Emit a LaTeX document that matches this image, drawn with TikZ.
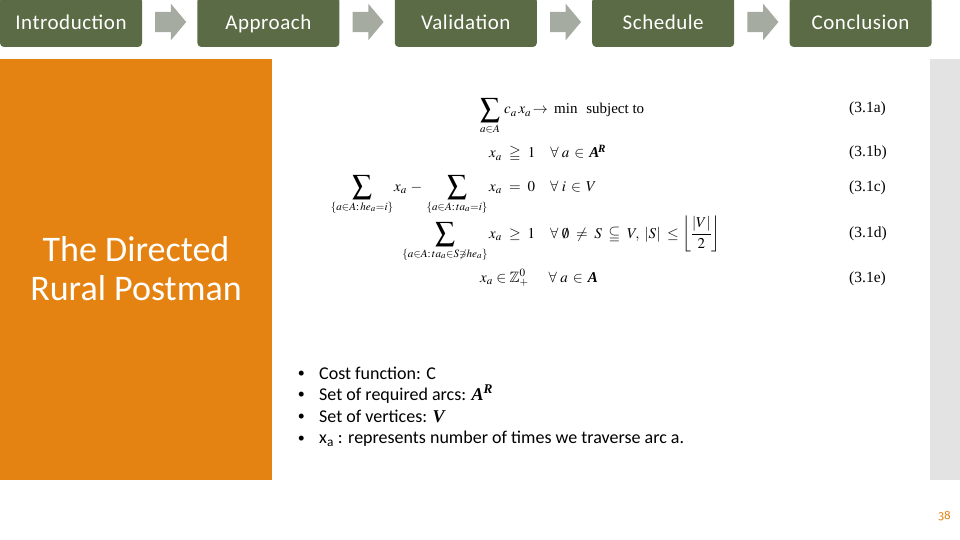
\documentclass[tikz,border=0pt]{standalone}
\usepackage{amsmath}
\usepackage{amssymb}
\usepackage{mathptmx}
\usepackage{fontspec}
\setmainfont{Carlito}
\newfontfamily\eqfont{Liberation Serif}
\newfontfamily\stagefont[LetterSpace=2.5]{Carlito}
\newfontfamily\oldnumfont[Numbers=OldStyle]{Fira Sans}
\usetikzlibrary{positioning,shapes.arrows}
\definecolor{stagegreen}{HTML}{5A6B45}
\definecolor{stagearrow}{HTML}{A5ABA0}
\definecolor{titleorange}{HTML}{E48312}
\definecolor{sidegrey}{HTML}{E3E3E3}
\newcommand{\bigsum}[1]{\mathop{\vcenter{\hbox{\scalebox{1.3}{$\displaystyle\sum$}}}}\limits_{#1}}
\newcommand{\boldset}[1]{\text{\eqfont\bfseries\itshape #1}}
\tikzset{
stagebox/.style = {fill=stagegreen, text=white, rounded corners=4pt, minimum width=142pt, minimum height=50pt, inner sep=0pt, text height=18pt, text depth=2pt, font=\stagefont\fontsize{21}{24}\selectfont},
stagetip/.style = {single arrow, fill=stagearrow, minimum height=31pt, inner xsep=0pt, inner ysep=10pt, outer sep=0pt, single arrow head extend=8pt, single arrow tip angle=100},
eqpart/.style = {anchor=base west, inner sep=0pt, font=\eqfont\fontsize{15}{18}\selectfont},
eqsum/.style = {anchor=base, inner sep=0pt, font=\eqfont\fontsize{15}{18}\selectfont},
eqtag/.style = {anchor=base west, inner sep=0pt, font=\eqfont\fontsize{15.5}{18}\selectfont},
bulletitem/.style = {anchor=base west, inner sep=0pt, text height=13pt, text depth=4pt, font=\fontsize{18}{21}\selectfont, label={[font=\fontsize{14}{20}\selectfont, inner sep=0pt, xshift=-14pt]left:\textbullet}},
}
\begin{document}
\begin{tikzpicture}
[x=1pt, y=-1pt]
\useasboundingbox (0,0) rectangle (960,540);
\clip (0,0) rectangle (960,540);
\fill[white] (0,0) rectangle (960,540);
\node (intro) [stagebox] at (71,22) {Introduction};
\node (tipa) [stagetip, right=13pt of intro] {};
\node (approach) [stagebox, right=11pt of tipa] {Approach};
\node (tipb) [stagetip, right=13pt of approach] {};
\node (validation) [stagebox, right=11pt of tipb] {Validation};
\node (tipc) [stagetip, right=13pt of validation] {};
\node (schedule) [stagebox, right=11pt of tipc] {Schedule};
\node (tipd) [stagetip, right=13pt of schedule] {};
\node (conclusion) [stagebox, right=11pt of tipd] {Conclusion};
\fill[titleorange] (0,59) rectangle (272,480);
\fill[sidegrey] (930,59) rectangle (960,480);
\node (title) [text=white, align=center, inner sep=0pt, font=\fontsize{36}{39}\selectfont] at (136,269) {The Directed\\Rural Postman};
\node (suma) [eqsum] at (490,114) {$\bigsum{a\in A}$};
\node (costa) [eqpart] at (504,114) {$c_a\,x_a\!\rightarrow$\, min\,\, subject to};
\node (xb) [eqpart] at (489,158) {$x_a\ \geqq\ 1\quad\forall\; a\,\in\,\boldset{A}^{\!\boldset{R}}$};
\node (sumc) [eqsum] at (362,191) {$\bigsum{\{a\in A:\,he_a=i\}}$};
\node (xc) [eqpart] at (394,191) {$x_a\ -$};
\node (sumd) [eqsum] at (457,191) {$\bigsum{\{a\in A:\,ta_a=i\}}$};
\node (xe) [eqpart] at (489,191) {$x_a\ =\ 0\quad\forall\; i\,\in\,V$};
\node (sumf) [eqsum] at (445,238) {$\bigsum{\{a\in A:\,ta_a\in S\not\ni he_a\}}$};
\node (xf) [eqpart] at (489,238) {$x_a\ \geq\ 1\quad\forall\;\emptyset\;\neq\;S\;\subseteqq\;V,\;|S|\;\leq\left\lfloor\dfrac{|V|}{2}\right\rfloor$};
\node (xg) [eqpart] at (480,282) {$x_a\in\mathbb{Z}^0_+\quad\;\,\forall\; a\,\in\,\boldset{A}$};
\node (taga) [eqtag] at (849,113) {(3.1a)};
\node (tagb) [eqtag] at (849,157) {(3.1b)};
\node (tagc) [eqtag] at (849,191) {(3.1c)};
\node (tagd) [eqtag] at (849,237) {(3.1d)};
\node (tage) [eqtag] at (849,282) {(3.1e)};
\node (cost) [bulletitem] at (319,379) {Cost function: C};
\node (arcs) [bulletitem] at (319,400) {Set of required arcs: $\boldset{A}^{\boldset{R}}$};
\node (vertices) [bulletitem] at (319,422) {Set of vertices: $\boldset{V}$};
\node (traverse) [bulletitem] at (319,443.5) {x\textsubscript{a} : represents number of times we traverse arc a.};
\node (pagenum) [text=titleorange, anchor=base east, inner sep=0pt, font=\oldnumfont\fontsize{12}{14}\selectfont] at (951,519) {38};
\end{tikzpicture}
\end{document}
